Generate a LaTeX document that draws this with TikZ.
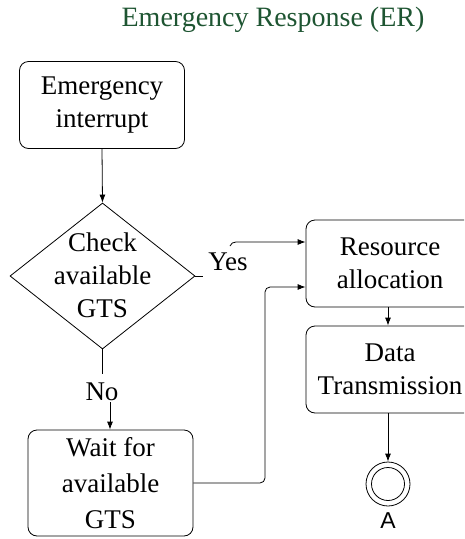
\documentclass[tikz,border=0pt]{standalone}
\usepackage{fontspec}
\setmainfont{Liberation Serif}[Ligatures=TeX]
\newfontfamily\serifx{Liberation Serif}
\newfontfamily\asans{Liberation Sans}
\usetikzlibrary{shapes.geometric,arrows.meta}
\definecolor{titlegreen}{RGB}{30,85,50}
\begin{document}
\begin{tikzpicture}[x=1pt,y=-1pt,
  line width=0.8pt,
  proc/.style={draw,rounded corners=9pt,align=center,inner sep=0pt,
    font=\serifx\fontsize{27}{33}\selectfont},
  lbl/.style={inner sep=0pt,font=\serifx\fontsize{27}{33}\selectfont},
  arr/.style={-{Latex[length=8pt,width=6pt]}}]
\useasboundingbox (0,0) rectangle (464,539);
\clip (0,0) rectangle (464,539);
\node[inner sep=0pt,text=titlegreen,font=\serifx\fontsize{28}{33}\selectfont] (title) at (273,20) {Emergency Response (ER)};
\node[proc,minimum width=165pt,minimum height=87pt] (emg) at (102,105) {Emergency\\interrupt};
\node[draw,diamond,minimum width=185pt,minimum height=146pt,inner sep=0pt] (chk) at (102.5,276) {};
\node[lbl,align=center] (chkt) at (102.5,275) {Check\\available\\GTS};
\node[proc,minimum width=168pt,minimum height=87pt] (res) at (390,263.5) {Resource\\allocation};
\node[proc,minimum width=168pt,minimum height=87pt] (dat) at (390,369.5) {Data\\Transmission};
\node[proc,minimum width=165pt,minimum height=106pt,font=\serifx\fontsize{27}{36}\selectfont] (wait) at (110.5,483) {Wait for\\available\\GTS};
\node[lbl] (yes) at (228,262) {Yes};
\node[lbl] (no) at (102,392) {No};
\node[draw,circle,minimum size=44pt,inner sep=0pt] (end) at (388,484) {};
\node[draw,circle,minimum size=33pt,inner sep=0pt] (endin) at (end.center) {};
\node[inner sep=0pt,font=\asans\fontsize{23}{26}\selectfont] (alab) at (388,521) {A};
\coordinate (ystart) at (230,246);
\coordinate (nostart) at (110,402);
\draw[arr] (emg.south) -- (chk.north);
\draw (chk.east) -- ++(8,0);
\draw[arr] (ystart) to[out=70,in=180] (236,242) -- (res.west |- 0,242);
\draw (chk.south) -- (102.5,374);
\draw[arr] (nostart) -- (wait.north -| nostart);
\draw[arr,rounded corners=5pt] (wait.east) -| (265,287) -- (res.west |- 0,287);
\draw[arr] (res.south -| 388,0) -- (dat.north -| 388,0);
\draw[arr] (dat.south -| 388,0) -- (end.north);
\end{tikzpicture}
\end{document}
